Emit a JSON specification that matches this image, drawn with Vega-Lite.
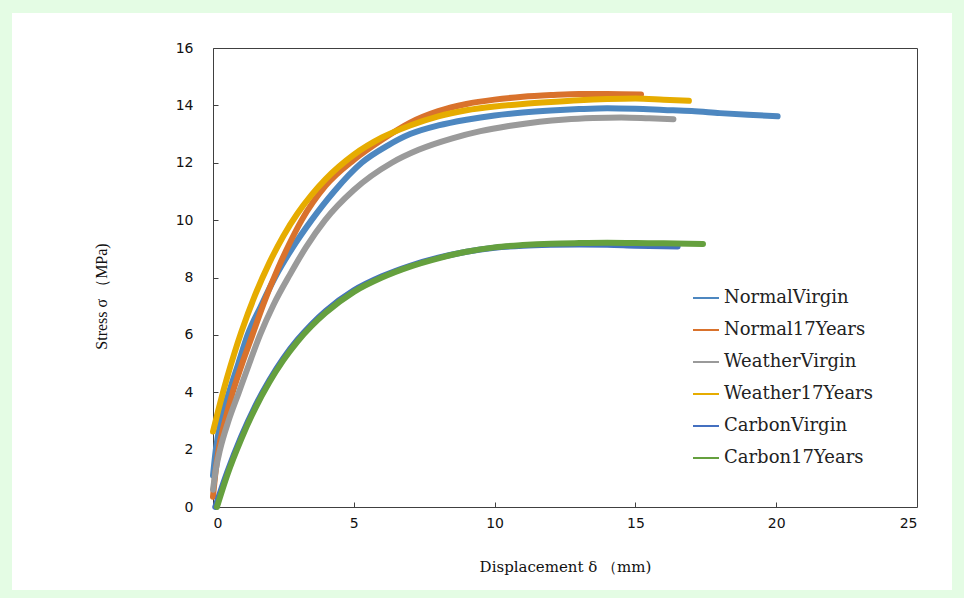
{
  "$schema": "https://vega.github.io/schema/vega-lite/v6.json",
  "width": 940,
  "height": 577,
  "autosize": {"type": "none"},
  "padding": {"left": 12, "top": 13, "right": 12, "bottom": 8},
  "background": "#e4fce4",
  "config": {
    "view": {"stroke": null, "fill": "#ffffff"},
    "axis": {
      "domainColor": "#404040",
      "tickColor": "#404040",
      "gridColor": "#404040",
      "labelColor": "#111111",
      "labelFont": "DejaVu Sans",
      "labelFontSize": 14,
      "titleColor": "#111111",
      "titleFontWeight": "normal"
    }
  },
  "data": {"values": [
      {"series": "NormalVirgin", "disp": 0, "stress": 1.1},
      {"series": "NormalVirgin", "disp": 0.1, "stress": 2.0},
      {"series": "NormalVirgin", "disp": 0.3, "stress": 3.1},
      {"series": "NormalVirgin", "disp": 0.57, "stress": 4.0},
      {"series": "NormalVirgin", "disp": 0.9, "stress": 5.0},
      {"series": "NormalVirgin", "disp": 1.23, "stress": 6.0},
      {"series": "NormalVirgin", "disp": 1.7, "stress": 7.0},
      {"series": "NormalVirgin", "disp": 2.2, "stress": 8.0},
      {"series": "NormalVirgin", "disp": 2.8, "stress": 9.0},
      {"series": "NormalVirgin", "disp": 3.5, "stress": 10.0},
      {"series": "NormalVirgin", "disp": 4.3, "stress": 11.0},
      {"series": "NormalVirgin", "disp": 5.28, "stress": 12.0},
      {"series": "NormalVirgin", "disp": 6.2, "stress": 12.6},
      {"series": "NormalVirgin", "disp": 7.0, "stress": 13.0},
      {"series": "NormalVirgin", "disp": 8.0, "stress": 13.3},
      {"series": "NormalVirgin", "disp": 9.0, "stress": 13.5},
      {"series": "NormalVirgin", "disp": 10.0, "stress": 13.65},
      {"series": "NormalVirgin", "disp": 11.0, "stress": 13.75},
      {"series": "NormalVirgin", "disp": 12.0, "stress": 13.82},
      {"series": "NormalVirgin", "disp": 13.0, "stress": 13.87},
      {"series": "NormalVirgin", "disp": 14.0, "stress": 13.9},
      {"series": "NormalVirgin", "disp": 15.0, "stress": 13.88},
      {"series": "NormalVirgin", "disp": 16.0, "stress": 13.84},
      {"series": "NormalVirgin", "disp": 17.0, "stress": 13.8},
      {"series": "NormalVirgin", "disp": 18.0, "stress": 13.73},
      {"series": "NormalVirgin", "disp": 19.0, "stress": 13.67},
      {"series": "NormalVirgin", "disp": 20.05, "stress": 13.62},

      {"series": "Normal17Years", "disp": 0, "stress": 0.36},
      {"series": "Normal17Years", "disp": 0.1, "stress": 1.3},
      {"series": "Normal17Years", "disp": 0.2, "stress": 2.0},
      {"series": "Normal17Years", "disp": 0.4, "stress": 2.9},
      {"series": "Normal17Years", "disp": 0.7, "stress": 4.0},
      {"series": "Normal17Years", "disp": 1.0, "stress": 4.9},
      {"series": "Normal17Years", "disp": 1.4, "stress": 6.0},
      {"series": "Normal17Years", "disp": 1.8, "stress": 7.1},
      {"series": "Normal17Years", "disp": 2.3, "stress": 8.3},
      {"series": "Normal17Years", "disp": 2.7, "stress": 9.15},
      {"series": "Normal17Years", "disp": 3.15, "stress": 10.0},
      {"series": "Normal17Years", "disp": 4.0, "stress": 11.2},
      {"series": "Normal17Years", "disp": 5.0, "stress": 12.1},
      {"series": "Normal17Years", "disp": 6.0, "stress": 12.8},
      {"series": "Normal17Years", "disp": 7.0, "stress": 13.4},
      {"series": "Normal17Years", "disp": 8.0, "stress": 13.8},
      {"series": "Normal17Years", "disp": 9.0, "stress": 14.05},
      {"series": "Normal17Years", "disp": 10.0, "stress": 14.2},
      {"series": "Normal17Years", "disp": 11.0, "stress": 14.3},
      {"series": "Normal17Years", "disp": 12.0, "stress": 14.36},
      {"series": "Normal17Years", "disp": 13.0, "stress": 14.4},
      {"series": "Normal17Years", "disp": 14.0, "stress": 14.4},
      {"series": "Normal17Years", "disp": 15.2, "stress": 14.38},

      {"series": "WeatherVirgin", "disp": 0, "stress": 0.6},
      {"series": "WeatherVirgin", "disp": 0.1, "stress": 1.3},
      {"series": "WeatherVirgin", "disp": 0.25, "stress": 2.0},
      {"series": "WeatherVirgin", "disp": 0.55, "stress": 3.0},
      {"series": "WeatherVirgin", "disp": 0.9, "stress": 3.95},
      {"series": "WeatherVirgin", "disp": 1.25, "stress": 4.9},
      {"series": "WeatherVirgin", "disp": 1.67, "stress": 6.0},
      {"series": "WeatherVirgin", "disp": 2.15, "stress": 7.05},
      {"series": "WeatherVirgin", "disp": 2.73, "stress": 8.1},
      {"series": "WeatherVirgin", "disp": 3.3, "stress": 9.05},
      {"series": "WeatherVirgin", "disp": 3.98, "stress": 10.0},
      {"series": "WeatherVirgin", "disp": 5.0, "stress": 11.05},
      {"series": "WeatherVirgin", "disp": 6.35, "stress": 12.0},
      {"series": "WeatherVirgin", "disp": 7.3, "stress": 12.45},
      {"series": "WeatherVirgin", "disp": 8.5, "stress": 12.85},
      {"series": "WeatherVirgin", "disp": 9.5, "stress": 13.1},
      {"series": "WeatherVirgin", "disp": 10.5, "stress": 13.28},
      {"series": "WeatherVirgin", "disp": 11.6, "stress": 13.43},
      {"series": "WeatherVirgin", "disp": 12.5, "stress": 13.51},
      {"series": "WeatherVirgin", "disp": 13.5, "stress": 13.56},
      {"series": "WeatherVirgin", "disp": 14.5, "stress": 13.58},
      {"series": "WeatherVirgin", "disp": 15.5, "stress": 13.55},
      {"series": "WeatherVirgin", "disp": 16.35, "stress": 13.52},

      {"series": "Weather17Years", "disp": 0, "stress": 2.63},
      {"series": "Weather17Years", "disp": 0.25, "stress": 3.61},
      {"series": "Weather17Years", "disp": 0.5, "stress": 4.51},
      {"series": "Weather17Years", "disp": 0.75, "stress": 5.33},
      {"series": "Weather17Years", "disp": 1.0, "stress": 6.08},
      {"series": "Weather17Years", "disp": 1.5, "stress": 7.4},
      {"series": "Weather17Years", "disp": 2.0, "stress": 8.51},
      {"series": "Weather17Years", "disp": 2.5, "stress": 9.45},
      {"series": "Weather17Years", "disp": 3.0, "stress": 10.23},
      {"series": "Weather17Years", "disp": 3.5, "stress": 10.88},
      {"series": "Weather17Years", "disp": 4.0, "stress": 11.43},
      {"series": "Weather17Years", "disp": 5.0, "stress": 12.28},
      {"series": "Weather17Years", "disp": 6.0, "stress": 12.88},
      {"series": "Weather17Years", "disp": 7.0, "stress": 13.3},
      {"series": "Weather17Years", "disp": 8.0, "stress": 13.62},
      {"series": "Weather17Years", "disp": 9.0, "stress": 13.83},
      {"series": "Weather17Years", "disp": 10.0, "stress": 13.96},
      {"series": "Weather17Years", "disp": 11.0, "stress": 14.05},
      {"series": "Weather17Years", "disp": 12.0, "stress": 14.12},
      {"series": "Weather17Years", "disp": 13.0, "stress": 14.18},
      {"series": "Weather17Years", "disp": 14.0, "stress": 14.22},
      {"series": "Weather17Years", "disp": 15.0, "stress": 14.24},
      {"series": "Weather17Years", "disp": 16.0, "stress": 14.2},
      {"series": "Weather17Years", "disp": 16.9, "stress": 14.16},

      {"series": "CarbonVirgin", "disp": 0.08, "stress": 0},
      {"series": "CarbonVirgin", "disp": 0.5, "stress": 1.2},
      {"series": "CarbonVirgin", "disp": 1.0, "stress": 2.45},
      {"series": "CarbonVirgin", "disp": 1.5, "stress": 3.52},
      {"series": "CarbonVirgin", "disp": 2.0, "stress": 4.42},
      {"series": "CarbonVirgin", "disp": 2.5, "stress": 5.19},
      {"series": "CarbonVirgin", "disp": 3.0, "stress": 5.83},
      {"series": "CarbonVirgin", "disp": 3.5, "stress": 6.37},
      {"series": "CarbonVirgin", "disp": 4.0, "stress": 6.83},
      {"series": "CarbonVirgin", "disp": 5.0, "stress": 7.55},
      {"series": "CarbonVirgin", "disp": 6.0, "stress": 8.04},
      {"series": "CarbonVirgin", "disp": 7.0, "stress": 8.41},
      {"series": "CarbonVirgin", "disp": 8.0, "stress": 8.69},
      {"series": "CarbonVirgin", "disp": 9.0, "stress": 8.9},
      {"series": "CarbonVirgin", "disp": 10.0, "stress": 9.04},
      {"series": "CarbonVirgin", "disp": 11.0, "stress": 9.11},
      {"series": "CarbonVirgin", "disp": 12.0, "stress": 9.14},
      {"series": "CarbonVirgin", "disp": 13.0, "stress": 9.15},
      {"series": "CarbonVirgin", "disp": 14.0, "stress": 9.14},
      {"series": "CarbonVirgin", "disp": 15.0, "stress": 9.11},
      {"series": "CarbonVirgin", "disp": 16.5, "stress": 9.08},

      {"series": "Carbon17Years", "disp": 0.14, "stress": 0},
      {"series": "Carbon17Years", "disp": 0.5, "stress": 1.1},
      {"series": "Carbon17Years", "disp": 1.0, "stress": 2.36},
      {"series": "Carbon17Years", "disp": 1.5, "stress": 3.44},
      {"series": "Carbon17Years", "disp": 2.0, "stress": 4.35},
      {"series": "Carbon17Years", "disp": 2.5, "stress": 5.12},
      {"series": "Carbon17Years", "disp": 3.0, "stress": 5.77},
      {"series": "Carbon17Years", "disp": 3.5, "stress": 6.31},
      {"series": "Carbon17Years", "disp": 4.0, "stress": 6.77},
      {"series": "Carbon17Years", "disp": 5.0, "stress": 7.5},
      {"series": "Carbon17Years", "disp": 6.0, "stress": 8.0},
      {"series": "Carbon17Years", "disp": 7.0, "stress": 8.38},
      {"series": "Carbon17Years", "disp": 8.0, "stress": 8.67},
      {"series": "Carbon17Years", "disp": 9.0, "stress": 8.9},
      {"series": "Carbon17Years", "disp": 10.0, "stress": 9.05},
      {"series": "Carbon17Years", "disp": 11.0, "stress": 9.13},
      {"series": "Carbon17Years", "disp": 12.0, "stress": 9.18},
      {"series": "Carbon17Years", "disp": 13.0, "stress": 9.2},
      {"series": "Carbon17Years", "disp": 14.0, "stress": 9.21},
      {"series": "Carbon17Years", "disp": 15.0, "stress": 9.2},
      {"series": "Carbon17Years", "disp": 16.0, "stress": 9.19},
      {"series": "Carbon17Years", "disp": 17.4, "stress": 9.17}
  ]},
  "mark": {"type": "line", "strokeWidth": 6, "strokeCap": "round", "strokeJoin": "round", "interpolate": "monotone"},
  "encoding": {
    "x": {
      "field": "disp", "type": "quantitative",
      "scale": {"domain": [0, 25], "range": [201, 905], "nice": false, "zero": false},
      "axis": {
        "values": [0, 5, 10, 15, 20, 25],
        "offset": -83,
        "tickSize": {"condition": {"test": "datum.value === 25", "value": -459}, "value": -5},
        "labelPadding": {"condition": {"test": "datum.value === 25", "value": 468}, "value": 14},
        "grid": false,
        "title": "Displacement δ （mm)",
        "titleFont": "DejaVu Serif",
        "titleFontSize": 15,
        "titleX": 553,
        "titleY": 59,
        "titleAlign": "center",
        "titleBaseline": "middle"
      }
    },
    "y": {
      "field": "stress", "type": "quantitative",
      "scale": {"domain": [0, 16], "range": [494, 35], "nice": false, "zero": false},
      "axis": {
        "values": [0, 2, 4, 6, 8, 10, 12, 14, 16],
        "offset": -201,
        "tickSize": -5,
        "labelPadding": 25,
        "grid": true,
        "gridOpacity": {"condition": {"test": "datum.value === 16", "value": 1}, "value": 0},
        "title": "Stress σ （MPa)",
        "titleFont": "Liberation Serif",
        "titleFontSize": 16,
        "titleAngle": -90,
        "titleX": -112,
        "titleY": 283,
        "titleAlign": "center",
        "titleBaseline": "middle"
      }
    },
    "color": {
      "field": "series", "type": "nominal",
      "scale": {
        "domain": ["NormalVirgin", "Normal17Years", "WeatherVirgin", "Weather17Years", "CarbonVirgin", "Carbon17Years"],
        "range": ["#4d87c0", "#d9722c", "#9a9a9a", "#e6ac00", "#4470c0", "#65a03e"]
      },
      "legend": {
        "title": null,
        "orient": "none",
        "legendX": 680,
        "legendY": 271,
        "symbolType": "stroke",
        "symbolSize": 676,
        "symbolStrokeWidth": 2,
        "labelFont": "DejaVu Serif",
        "labelFontSize": 18,
        "labelColor": "#222222",
        "labelOffset": 4,
        "labelLimit": 300,
        "rowPadding": 9
      }
    }
  }
}
